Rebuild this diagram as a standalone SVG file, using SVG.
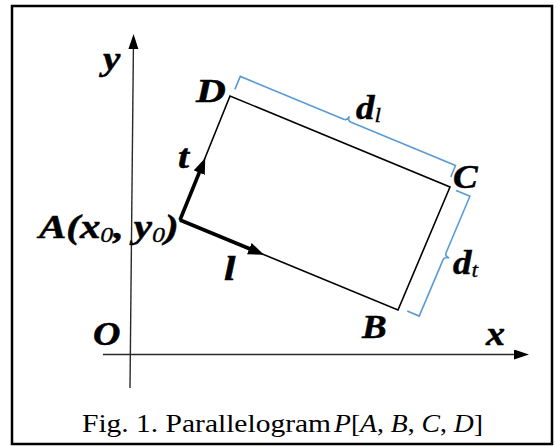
<svg xmlns="http://www.w3.org/2000/svg" width="556" height="446" viewBox="0 0 556 446">
<style>
text{font-family:'Liberation Serif','Times New Roman',serif}
.lbl{font-weight:700;font-style:italic;font-size:33px;fill:#000;stroke:#000;stroke-width:0.5}
.sub{font-size:21px;font-weight:400;stroke-width:0.3}
.cap{font-size:26px;fill:#000}
.axis{stroke:#2a2a2a;stroke-width:1.4;fill:none}
.edge{stroke:#000;stroke-width:1.6;fill:none}
.vec{stroke:#000;stroke-width:3.6;fill:none}
.brace{stroke:#5b9bd5;stroke-width:1.6;fill:none;stroke-linejoin:miter}
</style>
<defs>
<marker id="axhead" markerUnits="userSpaceOnUse" markerWidth="16" markerHeight="12" refX="1" refY="5" orient="auto">
<path d="M0,0 L15,5 L0,10 z" fill="#000"/>
</marker>
<marker id="vhead" markerUnits="userSpaceOnUse" markerWidth="18" markerHeight="14" refX="1" refY="6" orient="auto">
<path d="M0,0 L16,6 L0,12 z" fill="#000"/>
</marker>
</defs>
<rect id="frame" x="12" y="6" width="540" height="438" fill="#fff" stroke="#000" stroke-width="2.5"/>
<g id="connectors">
<line class="axis" x1="130" y1="388" x2="133.4" y2="48" marker-end="url(#axhead)"/>
<line class="axis" x1="103" y1="354.5" x2="515" y2="354.5" marker-end="url(#axhead)"/>
<polygon class="edge" points="180,220 398,310 450,187 230,96"/>
<line class="vec" x1="180" y1="220" x2="199.6" y2="171.8" marker-end="url(#vhead)"/>
<line class="vec" x1="180" y1="220" x2="250.2" y2="249" marker-end="url(#vhead)"/>
<path class="brace" d="M234.9,89.4 L240.3,76.4 L343.7,119.3 Q347.4,120.8 349.3,116.2 Q347.4,120.8 351.1,122.3 L455.5,165.5 L450.8,177"/>
<path class="brace" d="M456.1,190.6 L469.9,196.3 L446.2,252.5 Q444.6,256.2 449.2,258.1 Q444.6,256.2 443,259.9 L419.2,316.1 L407.2,311.1"/>
</g>
<g id="axis-y"><text class="lbl" transform="translate(103,70) scale(1.18,1)">y</text></g>
<g id="axis-x"><text class="lbl" transform="translate(486,345) scale(1.15,1)">x</text></g>
<g id="origin"><text class="lbl" transform="translate(93,345) scale(1.15,1)">O</text></g>
<g id="vertex-A"><text class="lbl" transform="translate(39,238) scale(1.24,1)" font-size="32">A(x<tspan class="sub" dy="4">0</tspan><tspan dy="-4">, y</tspan><tspan class="sub" dy="4">0</tspan><tspan dy="-4">)</tspan></text></g>
<g id="vertex-B"><text class="lbl" transform="translate(362,338) scale(1.12,1)">B</text></g>
<g id="vertex-C"><text class="lbl" transform="translate(453,188) scale(1.12,1)">C</text></g>
<g id="vertex-D"><text class="lbl" transform="translate(196,102) scale(1.25,1)" font-size="31">D</text></g>
<g id="vector-t"><text class="lbl" transform="translate(178,168) scale(1.2,1)" font-size="30">t</text></g>
<g id="vector-l"><text class="lbl" transform="translate(224,280) scale(1.25,1)">l</text></g>
<g id="length-dl"><text class="lbl" transform="translate(356,119) scale(1.12,1)">d<tspan class="sub" dy="3">l</tspan></text></g>
<g id="length-dt"><text class="lbl" transform="translate(453,274) scale(1.12,1)">d<tspan class="sub" dy="3">t</tspan></text></g>
<g id="caption">
<text class="cap" x="82" y="432" textLength="249" lengthAdjust="spacingAndGlyphs">Fig. 1. Parallelogram</text>
<text class="cap" x="334" y="432" textLength="149" lengthAdjust="spacingAndGlyphs"><tspan font-style="italic">P</tspan>[<tspan font-style="italic">A</tspan>, <tspan font-style="italic">B</tspan>, <tspan font-style="italic">C</tspan>, <tspan font-style="italic">D</tspan>]</text>
</g>
</svg>
